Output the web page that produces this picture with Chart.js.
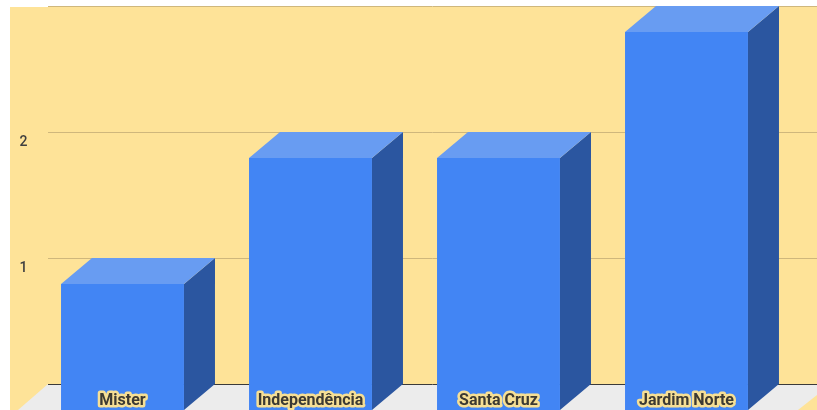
<!DOCTYPE html>
<html>
<head>
<meta charset="utf-8">
<script src="https://cdn.jsdelivr.net/npm/chart.js@4.4.1/dist/chart.umd.min.js"></script>
<style>
    html, body { margin: 0; padding: 0; background: #fff; }
    canvas { display: block; }
</style>
</head>
<body>
<canvas id="bairros-chart" width="817" height="410"></canvas>
<script>
    // Bairros e quantidade
    const bairros = ['Mister', 'Independência', 'Santa Cruz', 'Jardim Norte'];
    const quantidades = [1, 2, 2, 3];
    const yTicks = [1, 2];

    // 3D depth of the bars and the back wall
    const DX = 31;
    const DY = 26;
    const WALL_LEFT = 48;

    const COLORS = {
        wall: '#fee398',
        grid: '#cfb77c',
        floor: '#ececec',
        floorLine: '#3a3a3a',
        front: '#4285f4',
        side: '#2b56a0',
        top: '#689cf2'
    };

    const scene3d = {
        id: 'scene3d',
        beforeDraw(chart) {
            const ctx = chart.ctx;
            const yScale = chart.scales.y;
            const W = chart.width, H = chart.height;
            ctx.save();
            ctx.fillStyle = '#fff';
            ctx.fillRect(0, 0, W, H);
            ctx.fillStyle = COLORS.wall;
            ctx.fillRect(10, 7, W - 10, H - 7);

            // floor
            const floorY = yScale.getPixelForValue(0) - DY;
            ctx.fillStyle = COLORS.floor;
            ctx.beginPath();
            ctx.moveTo(WALL_LEFT, floorY);
            ctx.lineTo(W, floorY);
            ctx.lineTo(W, H);
            ctx.lineTo(WALL_LEFT - DX + 1, H);
            ctx.closePath();
            ctx.fill();

            // small piece of right wall at the bottom
            ctx.fillStyle = COLORS.wall;
            ctx.beginPath();
            ctx.moveTo(798, H);
            ctx.lineTo(W, H - 15);
            ctx.lineTo(W, H);
            ctx.closePath();
            ctx.fill();

            // back wall gridlines
            ctx.lineWidth = 1;
            ctx.strokeStyle = COLORS.grid;
            [1, 2, 3].forEach(v => {
                const y = Math.round(yScale.getPixelForValue(v) - DY) + 0.5;
                ctx.beginPath();
                ctx.moveTo(WALL_LEFT, y);
                ctx.lineTo(W, y);
                ctx.stroke();
            });
            ctx.strokeStyle = COLORS.floorLine;
            ctx.beginPath();
            ctx.moveTo(WALL_LEFT, Math.round(floorY) + 0.5);
            ctx.lineTo(W, Math.round(floorY) + 0.5);
            ctx.stroke();
            ctx.restore();
        },
        beforeDatasetsDraw(chart) {
            const ctx = chart.ctx;
            const meta = chart.getDatasetMeta(0);
            ctx.save();
            meta.data.forEach(bar => {
                const p = bar.getProps(['x', 'y', 'base', 'width'], true);
                const left = p.x - p.width / 2;
                const right = p.x + p.width / 2;
                // side face
                ctx.fillStyle = COLORS.side;
                ctx.beginPath();
                ctx.moveTo(right, p.y);
                ctx.lineTo(right + DX, p.y - DY);
                ctx.lineTo(right + DX, p.base - DY);
                ctx.lineTo(right, p.base);
                ctx.closePath();
                ctx.fill();
                // top face
                ctx.fillStyle = COLORS.top;
                ctx.beginPath();
                ctx.moveTo(left, p.y);
                ctx.lineTo(left + DX, p.y - DY);
                ctx.lineTo(right + DX, p.y - DY);
                ctx.lineTo(right, p.y);
                ctx.closePath();
                ctx.fill();
            });
            ctx.restore();
        },
        afterDatasetsDraw(chart) {
            const ctx = chart.ctx;
            const meta = chart.getDatasetMeta(0);
            ctx.save();
            ctx.font = 'bold 16px Roboto';
            ctx.textAlign = 'center';
            ctx.textBaseline = 'middle';
            ctx.lineJoin = 'round';
            meta.data.forEach((bar, i) => {
                const y = bar.base - 9;
                ctx.lineWidth = 5;
                ctx.strokeStyle = '#f6df95';
                ctx.strokeText(bairros[i], bar.x, y);
                ctx.fillStyle = '#3c3a33';
                ctx.fillText(bairros[i], bar.x, y);
            });
            ctx.restore();
        }
    };

    new Chart(document.getElementById('bairros-chart'), {
        type: 'bar',
        data: {
            labels: bairros,
            datasets: [{
                data: quantidades,
                backgroundColor: COLORS.front,
                borderWidth: 0,
                barPercentage: 0.654,
                categoryPercentage: 1
            }]
        },
        options: {
            responsive: false,
            animation: false,
            layout: { padding: { top: 32, right: 36.5, bottom: 0, left: 0 } },
            scales: {
                x: { display: false },
                y: {
                    min: 0,
                    max: 3,
                    afterFit(scale) {
                        scale.width = 28.5;
                        scale.paddingTop = 0;
                        scale.paddingBottom = 0;
                    },
                    afterBuildTicks(scale) { scale.ticks = yTicks.map(v => ({ value: v })); },
                    grid: { display: false, drawTicks: false },
                    border: { display: false },
                    ticks: {
                        padding: 1,
                        labelOffset: -16,
                        color: '#3f3f3f',
                        font: { family: 'Roboto', size: 14, weight: '500' }
                    }
                }
            },
            plugins: {
                legend: { display: false },
                tooltip: { enabled: false }
            }
        },
        plugins: [scene3d]
    });
</script>
</body>
</html>
